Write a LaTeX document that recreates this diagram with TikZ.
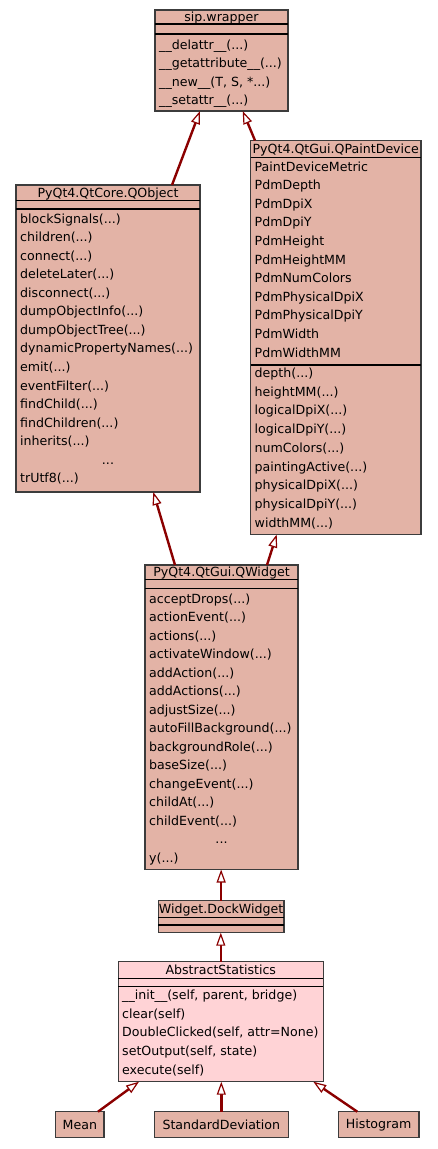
\documentclass[tikz,border=0pt]{standalone}
\usepackage{fontspec}
\setmainfont{DejaVu Sans}
\usetikzlibrary{arrows.meta}
\definecolor{clsfill}{RGB}{227,179,166}
\definecolor{absfill}{RGB}{255,211,214}
\definecolor{bordc}{RGB}{60,60,60}
\definecolor{edgec}{RGB}{139,0,0}
\newcommand\mydots{...}
\begin{document}
\begin{tikzpicture}[x=1pt,y=-1pt,
  cls/.style={rectangle, draw=bordc, line width=1.2pt, fill=clsfill, inner sep=0pt, outer sep=0pt},
  abscls/.style={cls, fill=absfill},
  txtfont/.style={font=\fontsize{12.6}{15}\selectfont},
  leaf/.style={cls, txtfont},
  sepl/.style={line width=1.5pt, black},
  mt/.style={txtfont, anchor=west, inner sep=0pt, text height=11pt, text depth=2.3pt},
  ttl/.style={mt, anchor=center},
  inh/.style={draw=edgec, line width=2.4pt, -{Triangle[fill=white, length=13pt, width=9pt, line width=1.2pt]}}
]
\fill[white] (0,0) rectangle (437,1149);
\useasboundingbox (0,0) rectangle (437,1149);

% ---------- sip.wrapper ----------
\node[cls, minimum width=133pt, minimum height=101pt] (sip) at (221.5,60.5) {};
\draw[sepl] (155,24) -- (288,24);
\draw[sepl] (155,34) -- (288,34);
\node[ttl] (sip-t) at (221.5,17) {sip.wrapper};
\foreach \t [count=\i] in {{\_\_delattr\_\_(\mydots)},{\_\_getattribute\_\_(\mydots)},{\_\_new\_\_(T, S, *\mydots)},{\_\_setattr\_\_(\mydots)}}
  \node[mt] (sip-\i) at ({159},{45+18.5*(\i-1)}) {\t};

% ---------- QObject ----------
\node[cls, minimum width=184pt, minimum height=307pt] (qobject) at (108,338.5) {};
\draw[sepl] (16,200.7) -- (200,200.7);
\draw[sepl] (16,209) -- (200,209);
\node[ttl] (qobject-t) at (108,193) {PyQt4.QtCore.QObject};
\foreach \t [count=\i] in {blockSignals(\mydots),children(\mydots),connect(\mydots),deleteLater(\mydots),disconnect(\mydots),dumpObjectInfo(\mydots),dumpObjectTree(\mydots),dynamicPropertyNames(\mydots),emit(\mydots),eventFilter(\mydots),findChild(\mydots),findChildren(\mydots),inherits(\mydots)}
  \node[mt] (qobject-\i) at ({20},{219+18.52*(\i-1)}) {\t};
\node[ttl] (qobject-dots) at (108,459.8) {...};
\node[mt] (qobject-last) at (20,478.3) {trUtf8(...)};

% ---------- QPaintDevice ----------
\node[cls, minimum width=170.5pt, minimum height=394pt] (qpd) at (335.75,337.5) {};
\draw[sepl] (250.5,157.3) -- (421,157.3);
\draw[sepl] (250.5,365) -- (421,365);
\node[ttl] (qpd-t) at (335.75,149) {PyQt4.QtGui.QPaintDevice};
\foreach \t [count=\i] in {PaintDeviceMetric,PdmDepth,PdmDpiX,PdmDpiY,PdmHeight,PdmHeightMM,PdmNumColors,PdmPhysicalDpiX,PdmPhysicalDpiY,PdmWidth,PdmWidthMM}
  \node[mt] (qpd-a\i) at ({254.5},{166.7+18.6*(\i-1)}) {\t};
\foreach \t [count=\i] in {depth(\mydots),heightMM(\mydots),logicalDpiX(\mydots),logicalDpiY(\mydots),numColors(\mydots),paintingActive(\mydots),physicalDpiX(\mydots),physicalDpiY(\mydots),widthMM(\mydots)}
  \node[mt] (qpd-m\i) at ({254.5},{373.3+18.67*(\i-1)}) {\t};

% ---------- QWidget ----------
\node[cls, minimum width=153pt, minimum height=304.5pt] (qwidget) at (221.5,717.25) {};
\draw[sepl] (145,579.3) -- (298,579.3);
\draw[sepl] (145,588.3) -- (298,588.3);
\node[ttl] (qwidget-t) at (221.5,572) {PyQt4.QtGui.QWidget};
\foreach \t [count=\i] in {acceptDrops(\mydots),actionEvent(\mydots),actions(\mydots),activateWindow(\mydots),addAction(\mydots),addActions(\mydots),adjustSize(\mydots),autoFillBackground(\mydots),backgroundRole(\mydots),baseSize(\mydots),changeEvent(\mydots),childAt(\mydots),childEvent(\mydots)}
  \node[mt] (qwidget-\i) at ({149},{599+18.5*(\i-1)}) {\t};
\node[ttl] (qwidget-dots) at (221.5,839.5) {...};
\node[mt] (qwidget-last) at (149,858) {y(...)};

% ---------- Widget.DockWidget ----------
\node[cls, minimum width=125.7pt, minimum height=32pt] (dock) at (221.15,916.7) {};
\draw[sepl] (158.3,917.3) -- (284,917.3);
\draw[sepl] (158.3,925) -- (284,925);
\node[ttl] (dock-t) at (221.15,909) {Widget.DockWidget};

% ---------- AbstractStatistics ----------
\node[abscls, minimum width=205pt, minimum height=120pt] (abs) at (220.8,1021.7) {};
\draw[sepl] (118.3,978.3) -- (323.3,978.3);
\draw[sepl] (118.3,986.7) -- (323.3,986.7);
\node[ttl] (abs-t) at (220.8,970) {AbstractStatistics};
\foreach \t [count=\i] in {{\_\_init\_\_(self, parent, bridge)},{clear(self)},{DoubleClicked(self, attr=None)},{setOutput(self, state)},{execute(self)}}
  \node[mt] (abs-\i) at ({122},{995+18.75*(\i-1)}) {\t};

% ---------- leaves ----------
\node[leaf, minimum width=48.3pt, minimum height=26pt] (mean) at (79.85,1124.7) {Mean};
\node[leaf, minimum width=134pt, minimum height=26pt] (sd) at (221.3,1124.7) {StandardDeviation};
\node[leaf, minimum width=80.7pt, minimum height=26pt] (hist) at (378.65,1124.7) {Histogram};

% ---------- inheritance edges ----------
\draw[inh] ([xshift=156pt]qobject.north west) -- ([xshift=45pt]sip.south west);
\draw[inh] ([xshift=4.5pt]qpd.north west) -- ([xshift=87.7pt]sip.south west);
\draw[inh] ([xshift=30pt]qwidget.north west) -- ([xshift=137.3pt]qobject.south west);
\draw[inh] ([xshift=122pt]qwidget.north west) -- ([xshift=26.2pt]qpd.south west);
\draw[inh] (dock.north) -- (dock.north |- qwidget.south);
\draw[inh] (abs.north) -- (abs.north |- dock.south);
\draw[inh] ([xshift=42.3pt]mean.north west) -- ([xshift=20.7pt]abs.south west);
\draw[inh] (sd.north) -- (sd.north |- abs.south);
\draw[inh] ([xshift=19pt]hist.north west) -- ([xshift=195pt]abs.south west);
\end{tikzpicture}
\end{document}
